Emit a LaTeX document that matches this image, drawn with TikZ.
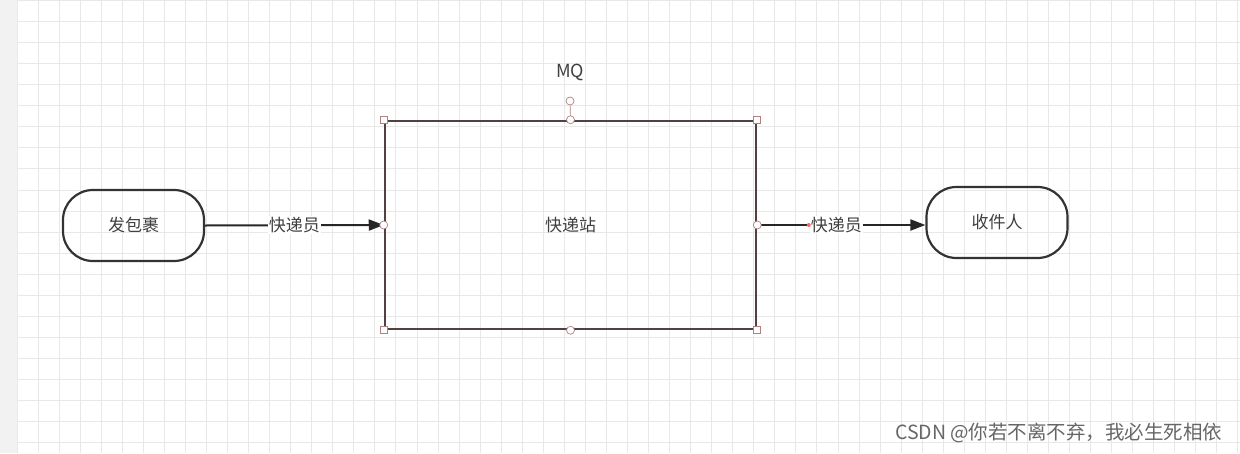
\documentclass[tikz,border=0pt]{standalone}
\usepackage{fontspec}
\setmainfont{Noto Sans CJK SC}
\usetikzlibrary{arrows.meta}
\begin{document}
\begin{tikzpicture}[x=1pt,y=-1pt,
  term/.style={draw=black!80,line width=2.2pt,rounded corners=30pt,minimum width=141pt,minimum height=71pt,font=\fontsize{17}{20}\selectfont,text=black!75},
  conn/.style={draw=black!85,line width=2pt,-{Triangle[length=15pt,width=11pt]}},
  lbl/.style={fill=white,inner sep=1pt,font=\fontsize{17}{20}\selectfont,text=black!75},
  hsq/.style={draw=red!40!black!50,fill=white,line width=0.7pt,minimum size=7pt,inner sep=0pt},
  hci/.style={circle,draw=red!40!black!50,fill=white,line width=0.7pt,minimum size=8pt,inner sep=0pt}]
\useasboundingbox (0,0) rectangle (1240,453);
\fill[black!5] (0,0) rectangle (17,453);
\foreach \x in {0,...,58} {\draw[black!9,line width=0.9pt] (17+21.05*\x,0) -- (17+21.05*\x,453);}
\foreach \y in {0,...,21} {\draw[black!9,line width=0.9pt] (17,0.5+21.05*\y) -- (1240,0.5+21.05*\y);}
\node[term] (src) at (133.5,225.5) {发包裹};
\node[term] (dst) at (997,222.5) {收件人};
\node[draw=red!10!black!75,line width=2.5pt,minimum width=371pt,minimum height=208pt,font=\fontsize{17}{20}\selectfont,text=black!75] (mq) at (570.5,225) {快递站};
\node[font=\fontsize{18}{20}\selectfont,text=black!75] (mql) at (570,72) {MQ};
\draw[conn] (src.east) -- node[lbl] {快递员} (mq.west);
\draw[conn] (mq.east) -- node[lbl,pos=0.47] (l2) {快递员} (mq.east -| dst.west);
\fill[red!60] (l2.west) circle (2pt);
\node[hci] (rot) at (570,101) {};
\draw[red!40!black!50,line width=0.7pt] (rot) -- (mq.north);
\foreach \a in {north west,north east,south west,south east} {\node[hsq] at (mq.\a) {};}
\foreach \a in {north,south,east,west} {\node[hci] at (mq.\a) {};}
\node[font=\fontsize{19.5}{22}\selectfont,text=black!60,anchor=east] (wm) at (1226,433) {CSDN @你若不离不弃，我必生死相依};
\end{tikzpicture}
\end{document}
